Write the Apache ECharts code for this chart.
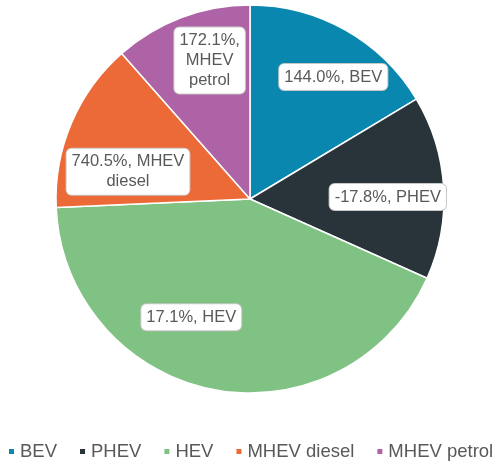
<!DOCTYPE html>
<html>
<head>
<meta charset="utf-8">
<script src="https://cdn.jsdelivr.net/npm/echarts@6/dist/echarts.min.js"></script>
<style>
  html, body { margin: 0; padding: 0; background: #fff; }
  #chart { width: 499px; height: 465px; }
</style>
</head>
<body>
<div id="chart"></div>
<script>
// powertrain share (slice size) and growth rate shown in the labels
const categories = ['BEV', 'PHEV', 'HEV', 'MHEV diesel', 'MHEV petrol']
const shares = [16.4, 15.3, 42.6, 14.2, 11.5]
const growth = ['144.0%', '-17.8%', '17.1%', '740.5%', '172.1%']
const colors = ['#0a87ae', '#29333a', '#80c184', '#ec6a37', '#ad63a6']

// label text wraps like the original
const labelText = [
  '144.0%, BEV',
  '-17.8%, PHEV',
  '17.1%, HEV',
  '740.5%, MHEV\ndiesel',
  '172.1%,\nMHEV\npetrol'
]
// nudges from the default inside position
const labelShift = [[34, -35], [38, 4], [-40, 20], [-30, 12], [-5, -45]]

const chart = echarts.init(document.getElementById('chart'))

chart.setOption({
  animation: false,
  color: colors,
  legend: {
    top: 437,
    left: 2,
    icon: 'rect',
    itemWidth: 7,
    itemHeight: 7,
    itemGap: 21,
    textStyle: { color: '#595959', fontSize: 18.5, fontFamily: 'Liberation Sans, Arial, sans-serif' },
    data: categories
  },
  series: [{
    type: 'pie',
    center: [250, 199],
    radius: 194,
    startAngle: 90,
    clockwise: true,
    itemStyle: { borderColor: '#fff', borderWidth: 1.5 },
    label: {
      position: 'inside',
      formatter: p => labelText[p.dataIndex],
      color: '#595959',
      fontSize: 16.5,
      lineHeight: 20,
      fontFamily: 'Liberation Sans, Arial, sans-serif',
      backgroundColor: '#fff',
      borderColor: '#c8c8c8',
      borderWidth: 1,
      borderRadius: 5,
      padding: [3, 5]
    },
    labelLine: { show: false },
    labelLayout: p => ({ dx: labelShift[p.dataIndex][0], dy: labelShift[p.dataIndex][1], hideOverlap: false }),
    data: categories.map((name, i) => ({ name, value: shares[i], growth: growth[i] }))
  }]
})
</script>
</body>
</html>
